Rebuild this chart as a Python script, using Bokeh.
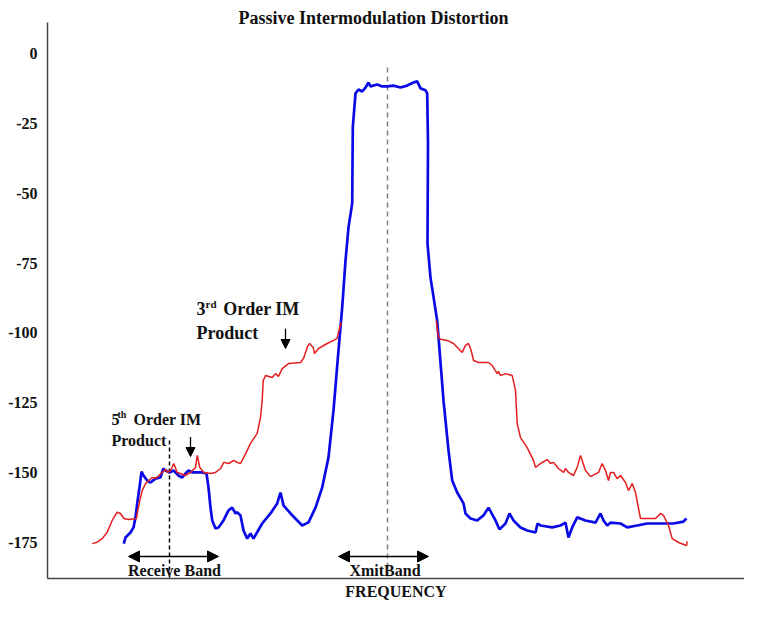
from bokeh.plotting import figure
from bokeh.models import Label, Arrow, NormalHead, FixedTicker, Range1d
from bokeh.embed import file_html
from bokeh.resources import INLINE

NAN = float("nan")

# ---- data (frequency in arbitrary units, level in dB) ----
red_freq = [44.7, 49.7, 54.7, 59.7, 64.7, 69.7, 73, 76.3, 81.3, 89, 90.3, 92.3, 94.7, 98,
            101.3, 104.7, 108, 111.3, 114.7, 118, 120.3, 123, 126.3, 129.7, 133, 138, 143,
            148, 149.7, 152.3, 156.3, 163, 168, 173, 176.3, 181.3, 186.3, 189.7, 193, 196.3,
            199.7, 203, 209.7, 213, 214.7, 215.7, 218, 224.7, 228, 231, 234.7, 241, 253, 256,
            259.7, 262, 265.7, 267, 271, 279.7, 286, 289.7, 291, 293.7,
            NAN,
            388.7, 391, 393, 399.7, 406, 414.7, 418, 421, 423.7, 426, 431, 441, 444.7, 449.7,
            451, 453, 458, 464.7, 468, 469.7, 473, 479.7, 486, 488, 493, 499.7, 503, 506, 511,
            516, 518, 521, 526, 529.7, 533, 538, 543, 551, 554.7, 558, 561, 563, 566, 569.7,
            573, 578, 581, 584.7, 588, 593, 608, 613, 616, 621, 624.7, 631, 639, 639.7]
red_db = [-175.5, -175.0, -173.7, -171.4, -167.2, -164.2, -164.7, -166.5, -166.9, -166.5,
          -163.6, -160.0, -156.5, -154.0, -152.9, -151.8, -152.2, -151.1, -150.0, -148.9,
          -150.0, -149.3, -146.8, -150.0, -150.4, -151.1, -150.0, -148.2, -143.9, -148.2,
          -150.0, -150.4, -150.0, -148.6, -146.4, -146.8, -145.7, -146.4, -146.8, -144.6,
          -142.1, -139.6, -136.0, -130.3, -124.2, -117.1, -115.3, -116.0, -114.6, -115.6,
          -112.8, -111.0, -110.6, -109.2, -105.2, -103.8, -105.2, -107.4, -105.6, -103.8,
          -102.7, -102.0, -99.8, -96.2,
          NAN,
          -95.6, -101.6, -102.3, -102.7, -103.8, -107.0, -104.5, -103.8, -106.3, -109.9,
          -110.6, -110.6, -111.7, -114.6, -113.8, -115.3, -114.6, -115.3, -120.6, -132.5,
          -137.5, -141.1, -145.7, -148.2, -146.8, -145.4, -146.8, -146.4, -148.6, -150.0,
          -148.6, -150.0, -151.1, -148.2, -143.9, -149.3, -151.5, -150.0, -146.8, -149.3,
          -152.9, -150.0, -150.0, -152.2, -151.1, -153.6, -156.5, -154.0, -157.2, -166.5,
          -166.5, -164.7, -165.4, -169.0, -173.7, -175.1, -176.2, -174.7]

blue_freq = [76.3, 78, 83, 86, 88, 89.7, 92, 94, 96, 99.7, 103, 108, 113, 115.7, 118, 122,
             126, 131, 134.7, 138, 141, 144.7, 149.7, 154.7, 159, 161, 163, 164.7, 168, 171,
             176, 181, 184.7, 188, 189.7, 193, 196, 199.7, 203, 206, 214.7, 223, 229.7, 233,
             236, 243, 254.7, 261, 268, 274.7, 281, 286, 291, 294.7, 298, 301, 304.7, 305.3,
             308, 311, 314.7, 318, 321, 323, 329.7, 334.7, 339.7, 346, 353, 359.7, 366,
             369.7, 373, 378, 379.7, 380.5, 380, 383, 389.7, 396, 401, 404.7, 409.7, 416,
             418, 423, 429.7, 436, 441, 448, 452, 458, 462, 466, 473, 479.7, 488, 490, 493,
             504.7, 513, 518, 521, 524.7, 529.7, 538, 548, 553, 556, 559.7, 563, 573, 579.7,
             589.7, 599.7, 613, 626, 636, 639]
blue_db = [-175.5, -173.3, -171.5, -169.7, -166.1, -161.1, -155.4, -149.7, -151.1, -152.9,
           -153.6, -152.2, -151.8, -148.6, -149.3, -150.0, -149.3, -151.1, -151.8, -150.4,
           -149.3, -150.0, -150.0, -150.0, -150.4, -155.4, -162.6, -167.2, -170.1, -169.7,
           -167.2, -163.6, -162.6, -164.7, -164.3, -165.4, -170.8, -173.7, -171.9, -173.7,
           -168.3, -164.7, -161.1, -157.2, -161.8, -164.7, -169.0, -167.9, -162.6, -155.4,
           -144.6, -127.8, -106.3, -90.9, -74.1, -62.2, -53.6, -26.4, -14.2, -12.8, -13.5,
           -12.1, -10.3, -11.7, -11.0, -11.7, -11.7, -11.4, -12.1, -11.4, -10.3, -9.9,
           -12.4, -13.1, -14.2, -32.1, -68.0, -80.2, -95.6, -124.2, -142.1, -152.9, -157.2,
           -161.1, -164.7, -166.5, -167.2, -165.4, -162.6, -167.2, -170.4, -168.3, -164.7,
           -167.2, -169.7, -170.8, -171.5, -168.3, -169.0, -169.7, -169.0, -168.0, -173.3,
           -169.7, -166.1, -167.2, -168.0, -164.7, -167.2, -169.0, -168.0, -168.3, -169.7,
           -169.0, -168.3, -168.3, -168.3, -167.6, -166.5]

tick_values = [0, -25, -50, -75, -100, -125, -150, -175]
tick_labels = ["0", "-25", "-50", "-75", "-100", "-125", "-150", "-175"]

receive_band = [81, 171]      # receive band edges
xmit_band = [291, 381]        # transmit band edges
receive_center = 122
xmit_center = 340
band_level = -180.1

FONT = "Liberation Serif"

p = figure(width=744, height=603, output_backend="svg", toolbar_location=None,
           x_range=Range1d(0, 697), y_range=Range1d(-188.0, 11.2),
           min_border_left=47, min_border_right=0, min_border_top=22, min_border_bottom=25)
p.outline_line_color = None
p.xgrid.visible = False
p.ygrid.visible = False
p.background_fill_color = "white"

p.title.text = "Passive Intermodulation Distortion"
p.title.align = "left"
p.title.offset = 191
p.title.text_font = FONT
p.title.text_font_style = "bold"
p.title.text_font_size = "18px"
p.title.text_color = "#111111"
p.title.vertical_align = "bottom"
p.title.standoff = -10

p.yaxis.ticker = FixedTicker(ticks=tick_values)
p.yaxis.major_label_overrides = {v: s for v, s in zip(tick_values, tick_labels)}
p.yaxis.major_tick_out = 0
p.yaxis.major_tick_in = 0
p.yaxis.minor_tick_out = 0
p.yaxis.minor_tick_in = 0
p.yaxis.major_label_standoff = 10
p.yaxis.major_label_text_font = FONT
p.yaxis.major_label_text_font_style = "bold"
p.yaxis.major_label_text_font_size = "16px"
p.yaxis.major_label_text_color = "#111111"
p.yaxis.axis_line_color = "#444444"
p.yaxis.axis_line_width = 1.5

p.xaxis.ticker = FixedTicker(ticks=[])
p.xaxis.major_tick_out = 0
p.xaxis.major_tick_in = 0
p.xaxis.minor_tick_out = 0
p.xaxis.minor_tick_in = 0
p.xaxis.major_label_standoff = 0
p.xaxis.major_label_text_font_size = "0px"
p.xaxis.axis_line_color = "#444444"
p.xaxis.axis_line_width = 1.5
p.xaxis.axis_label = "FREQUENCY"
p.xaxis.axis_label_standoff = 4
p.xaxis.axis_label_text_font = FONT
p.xaxis.axis_label_text_font_style = "bold"
p.xaxis.axis_label_text_font_size = "16px"
p.xaxis.axis_label_text_color = "#111111"

# dashed center lines
p.line([xmit_center, xmit_center], [-4.9, -188.0], line_color="#808080", line_width=1.5,
       line_dash="5 4")
p.line([receive_center, receive_center], [-138.6, -188.0], line_color="black", line_width=1.5,
       line_dash="4 3")

# traces
p.line(blue_freq, blue_db, line_color="#0a0ae6", line_width=2.7)
p.line(red_freq, red_db, line_color="#e41e1e", line_width=1.5)

# band arrows
for band in (receive_band, xmit_band):
    p.add_layout(Arrow(x_start=band[0], y_start=band_level, x_end=band[1], y_end=band_level,
                       line_width=1.5, line_color="black",
                       start=NormalHead(size=11, fill_color="black", line_color="black"),
                       end=NormalHead(size=11, fill_color="black", line_color="black")))

# pointer arrows
p.add_layout(Arrow(x_start=238, y_start=-98.5, x_end=238, y_end=-105.6, line_width=1.3,
                   end=NormalHead(size=9, fill_color="black", line_color="black")))
p.add_layout(Arrow(x_start=143, y_start=-137.3, x_end=143, y_end=-144.3, line_width=1.3,
                   end=NormalHead(size=9, fill_color="black", line_color="black")))


def lab(x, y, text, size, align="left", color="#111111"):
    p.add_layout(Label(x=x, y=y, text=text, text_font=FONT, text_font_style="bold",
                       text_font_size=size, text_align=align, text_baseline="middle",
                       text_color=color))


lab(127, -185.1, "Receive Band", "16px", "center")
lab(337.5, -185.1, "XmitBand", "16px", "center")

lab(149, -91.4, "3", "18px")
lab(158, -89.6, "rd", "11px")
lab(175.7, -91.4, "Order IM", "18px")
lab(149, -100.2, "Product", "18px")

lab(64, -131.0, "5", "16px")
lab(70, -129.4, "th", "10px")
lab(86, -131.0, "Order IM", "16px")
lab(64, -138.6, "Product", "16px")

open("out.html", "w").write(file_html(p, INLINE))
